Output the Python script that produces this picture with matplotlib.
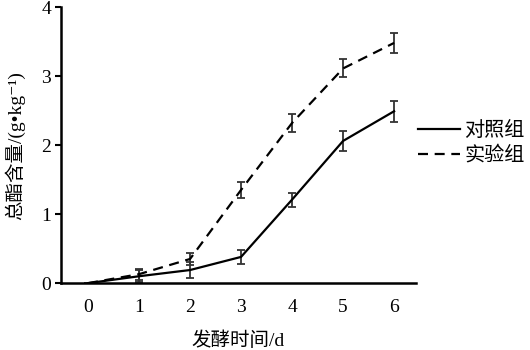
import numpy as np
import matplotlib
matplotlib.use("Agg")
import matplotlib.pyplot as plt
from matplotlib.lines import Line2D

plt.rcParams['font.family'] = ['Liberation Serif', 'Noto Sans CJK SC', 'DejaVu Serif']

days = [0, 1, 2, 3, 4, 5, 6]
control = [0, 0.10, 0.19, 0.38, 1.21, 2.06, 2.49]
control_err = [0, 0.09, 0.12, 0.10, 0.10, 0.14, 0.15]
treated = [0, 0.13, 0.35, 1.35, 2.32, 3.11, 3.48]
treated_err = [0, 0.08, 0.09, 0.11, 0.13, 0.13, 0.15]
yticks = [0, 1, 2, 3, 4]
series_names = ['对照组', '实验组']

fig = plt.figure(figsize=(5.3, 3.5), dpi=100)
ax = fig.add_axes([0.115, 0.191, 0.67, 0.789])

dash = (0, (4.5, 3))
ax.errorbar(days, control, yerr=control_err, color='black', lw=1.6,
            ecolor='#333333', elinewidth=1.3, capsize=3, capthick=1.3)
ax.errorbar(days, treated, yerr=treated_err, color='black', lw=1.6,
            ls=dash, ecolor='#333333', elinewidth=1.3,
            capsize=3, capthick=1.3)

ax.set_xlim(-0.53, 6.43)
ax.set_ylim(0, 4)
ax.set_xticks(days)
ax.set_yticks(yticks)
ax.tick_params(axis='x', length=0, pad=11.5, labelsize=14)
ax.tick_params(axis='y', length=4, width=1.5, pad=3, labelsize=14)
for s in ['top', 'right']:
    ax.spines[s].set_visible(False)
for s in ['left', 'bottom']:
    ax.spines[s].set_linewidth(1.8)

ax.set_xlabel('发酵时间/d', fontsize=14, labelpad=11)
ax.set_ylabel('总酯含量/(g•kg⁻¹)', fontsize=14, labelpad=12)

# plain line handles so the legend shows no error bars
handles = [Line2D([], [], color='black', lw=1.6),
           Line2D([], [], color='black', lw=1.6, ls=dash)]
ax.legend(handles, series_names, loc='center left', bbox_to_anchor=(0.955, 0.505),
          frameon=False, fontsize=14.5, handlelength=2.1, handletextpad=0.2,
          labelspacing=0.3)

fig.savefig('out.png', dpi=100)
